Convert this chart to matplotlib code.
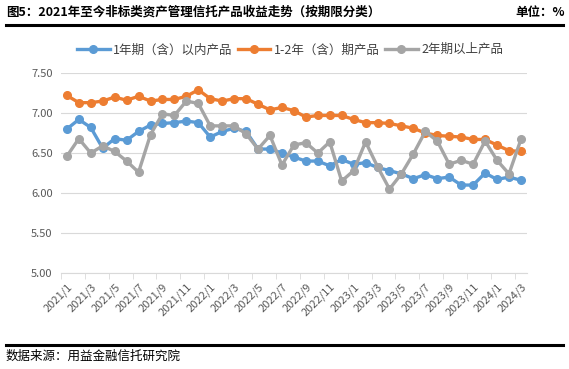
import numpy as np
import matplotlib
matplotlib.use("Agg")
import matplotlib.pyplot as plt
from matplotlib.lines import Line2D

plt.rcParams['font.family'] = ['Noto Sans CJK SC', 'DejaVu Sans']

months = [f"{y}/{m}" for y in (2021, 2022, 2023) for m in range(1, 13)] + ["2024/1", "2024/2", "2024/3"]

short_term = [6.80, 6.92, 6.82, 6.56, 6.68, 6.66, 6.77, 6.85, 6.87, 6.88,
              6.90, 6.88, 6.70, 6.77, 6.81, 6.77, 6.55, 6.55, 6.50, 6.45,
              6.40, 6.40, 6.34, 6.42, 6.36, 6.38, 6.32, 6.28, 6.24, 6.18,
              6.23, 6.18, 6.20, 6.10, 6.10, 6.25, 6.17, 6.20, 6.16]
mid_term = [7.22, 7.13, 7.13, 7.15, 7.20, 7.16, 7.21, 7.15, 7.17, 7.17,
            7.21, 7.29, 7.18, 7.15, 7.18, 7.18, 7.11, 7.04, 7.07, 7.03,
            6.95, 6.97, 6.97, 6.97, 6.92, 6.88, 6.88, 6.87, 6.84, 6.81,
            6.75, 6.72, 6.71, 6.70, 6.67, 6.67, 6.60, 6.53, 6.52]
long_term = [6.46, 6.68, 6.50, 6.59, 6.52, 6.40, 6.26, 6.73, 6.99, 6.97,
             7.15, 7.12, 6.84, 6.84, 6.84, 6.74, 6.55, 6.72, 6.35, 6.60,
             6.63, 6.50, 6.64, 6.15, 6.28, 6.64, 6.33, 6.05, 6.24, 6.49,
             6.77, 6.65, 6.36, 6.41, 6.36, 6.65, 6.41, 6.24, 6.67]

series_names = ["1年期（含）以内产品", "1-2年（含）期产品", "2年期以上产品"]
colors = ["#5B9BD5", "#ED7D31", "#A5A5A5"]
y_ticks = [5.00, 5.50, 6.00, 6.50, 7.00, 7.50]

fig = plt.figure(figsize=(5.69, 3.69), dpi=100)
ax = fig.add_axes([0.107, 0.260, 0.819, 0.542])

x = np.arange(len(months))
handles = []
for vals, name, c in zip([short_term, mid_term, long_term], series_names, colors):
    ax.plot(x, vals, color=c, lw=2.4, marker='o', ms=5.5, zorder=3)
    handles.append(Line2D([0], [0], color=c, lw=2.4, marker='o', ms=5.5))

ax.set_xlim(-0.5, len(months) - 0.5)
ax.set_ylim(5.0, 7.5)
ax.set_yticks(y_ticks)
ax.set_yticklabels([f"{v:.2f}" for v in y_ticks], fontsize=8, color="#595959")
ax.yaxis.grid(True, color="#D9D9D9", lw=0.8)
ax.set_axisbelow(True)
ax.tick_params(axis='y', length=0, pad=6)

ax.set_xticks(x[::2])
ax.set_xticklabels(months[::2], rotation=45, ha='right', rotation_mode='anchor',
                   fontsize=8, color="#595959")
ax.set_xticks(np.arange(-0.5, len(months), 2), minor=True)
ax.tick_params(axis='x', which='major', length=0, pad=6)
ax.tick_params(axis='x', which='minor', length=4, color="#D9D9D9")

for s in ['top', 'right', 'left']:
    ax.spines[s].set_visible(False)
ax.spines['bottom'].set_color("#D9D9D9")

fig.legend(handles, series_names, loc='center', bbox_to_anchor=(0.51, 0.865),
           ncol=3, frameon=False, fontsize=9, handlelength=2.6, handletextpad=0.3,
           columnspacing=0.4, labelcolor="#404040")

fig.text(0.01, 0.967, "图5：2021年至今非标类资产管理信托产品收益走势（按期限分类）",
         fontsize=9, fontweight='bold', va='center')
fig.text(0.905, 0.967, "单位：%", fontsize=9, fontweight='bold', va='center')
fig.add_artist(Line2D([0.01, 0.99], [0.932, 0.932], color='black', lw=2.2))
fig.add_artist(Line2D([0.01, 0.99], [0.065, 0.065], color='black', lw=2.2))
fig.text(0.01, 0.035, "数据来源：用益金融信托研究院", fontsize=9, va='center')

fig.savefig("out.png", dpi=100)
